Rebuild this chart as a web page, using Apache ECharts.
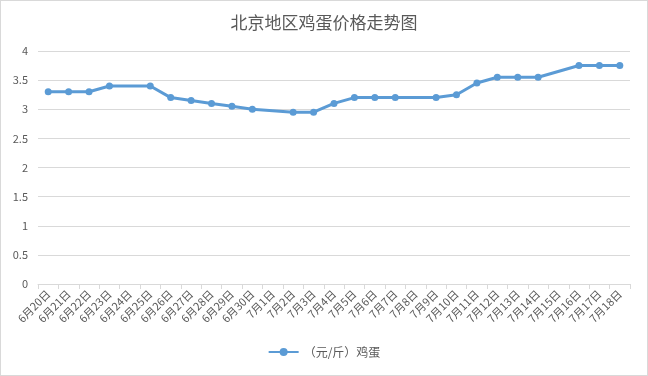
<!DOCTYPE html>
<html><head><meta charset="utf-8">
<script src="https://cdn.jsdelivr.net/npm/echarts@6/dist/echarts.min.js"></script>
<style>html,body{margin:0;padding:0;background:#fff}#c{width:648px;height:376px;box-sizing:border-box;border:1px solid #d9d9d9}</style>
</head><body><div id="c"></div>
<script>
const categories = ['6月20日','6月21日','6月22日','6月23日','6月24日','6月25日','6月26日','6月27日','6月28日','6月29日','6月30日','7月1日','7月2日','7月3日','7月4日','7月5日','7月6日','7月7日','7月8日','7月9日','7月10日','7月11日','7月12日','7月13日','7月14日','7月15日','7月16日','7月17日','7月18日'];
const eggPrice = [3.3,3.3,3.3,3.4,null,3.4,3.2,3.15,3.1,3.05,3.0,null,2.95,2.95,3.1,3.2,3.2,3.2,null,3.2,3.25,3.45,3.55,3.55,3.55,null,3.75,3.75,3.75];
const seriesName = '（元/斤）鸡蛋';
const titleText = '北京地区鸡蛋价格走势图';
const font = '"Noto Sans CJK SC", sans-serif';
const chart = echarts.init(document.getElementById('c'));
chart.setOption({
  animation:false,
  title:{text:titleText,left:'center',top:8,textStyle:{fontFamily:font,fontSize:17,fontWeight:'normal',color:'#595959'}},
  legend:{bottom:12,left:'center',itemWidth:30,itemHeight:10,itemGap:10,textStyle:{fontFamily:font,fontSize:12,color:'#595959'},data:[seriesName]},
  grid:{left:37,right:17,top:50,bottom:91,containLabel:false},
  xAxis:{type:'category',data:categories,boundaryGap:true,
    axisLine:{lineStyle:{color:'#d9d9d9'}},axisTick:{show:true,alignWithLabel:false,length:5,lineStyle:{color:'#d9d9d9'}},
    axisLabel:{rotate:45,interval:0,fontFamily:font,fontSize:11,color:'#595959',margin:8}},
  yAxis:{type:'value',min:0,max:4,interval:0.5,
    axisLine:{show:false},axisTick:{show:false},
    splitLine:{lineStyle:{color:'#d9d9d9'}},
    axisLabel:{fontFamily:font,fontSize:11,color:'#595959',margin:10}},
  series:[{name:seriesName,type:'line',data:eggPrice,connectNulls:true,
    symbol:'circle',symbolSize:7,itemStyle:{color:'#5b9bd5'},lineStyle:{color:'#5b9bd5',width:3}}]
});
</script></body></html>
